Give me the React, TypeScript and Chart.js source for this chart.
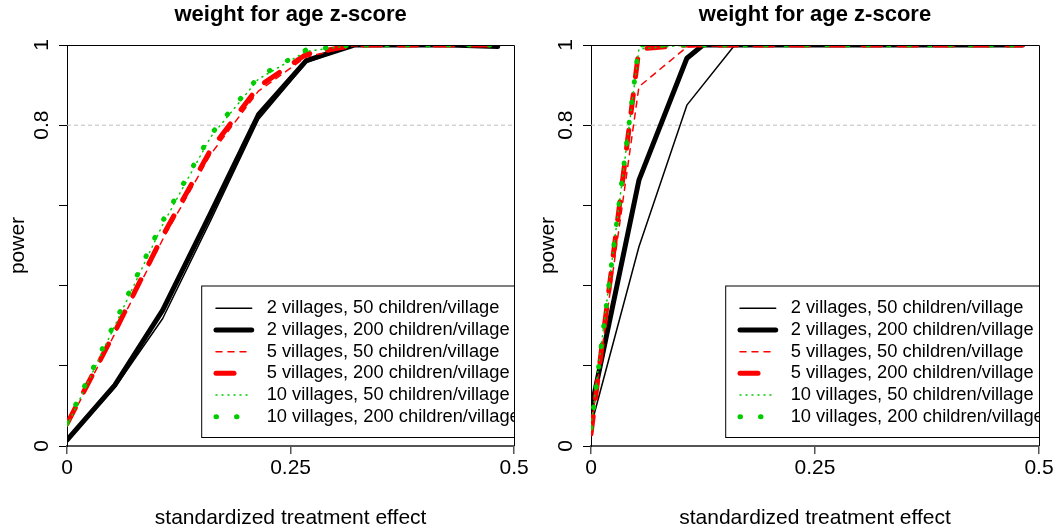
import React, { useEffect, useRef } from 'react';
import { Chart, registerables } from 'chart.js';

Chart.register(...registerables);

const FONT = "'Liberation Sans', Arial, Helvetica, sans-serif";

// ---- text ----
const chartTitle = 'weight for age z-score';
const xAxisTitle = 'standardized treatment effect';
const yAxisTitle = 'power';

// ---- ticks ----
const xTicks = [0, 0.25, 0.5];
const yTicks = [0, 0.2, 0.4, 0.6, 0.8, 1];
const yTickLabels = ['0', '', '', '', '0.8', '1'];
const referencePower = 0.8;

// ---- series names ----
const seriesNames = [
  '2 villages, 50 children/village',
  '2 villages, 200 children/village',
  '5 villages, 50 children/village',
  '5 villages, 200 children/village',
  '10 villages, 50 children/village',
  '10 villages, 200 children/village',
];

// ---- effect sizes (x) ----
const effectSizes = [0, 0.0535, 0.107, 0.1605, 0.214, 0.2675, 0.321, 0.3745, 0.428, 0.4815];
const effectSizesRightV2C200 = [0, 0.0535, 0.107, 0.125, 0.1605, 0.214, 0.2675, 0.321, 0.3745, 0.428, 0.4815];

// ---- left panel power values ----
const leftV2C50 = [0.012, 0.146, 0.318, 0.562, 0.814, 0.956, 0.999, 1, 1, 0.998];
const leftV2C200 = [0.015, 0.152, 0.339, 0.58, 0.826, 0.961, 1, 1, 1, 0.996];
const leftV5C50 = [0.05, 0.28, 0.515, 0.727, 0.885, 0.97, 0.998, 1, 1, 1];
const leftV5C200 = [0.055, 0.285, 0.524, 0.738, 0.896, 0.977, 1, 1, 1, 1];
const leftV10C50 = [0.05, 0.3, 0.552, 0.77, 0.915, 0.984, 1, 1, 1, 1];
const leftV10C200 = [0.057, 0.308, 0.561, 0.776, 0.92, 0.988, 1, 1, 1, 1];

// ---- right panel power values ----
const rightV2C50 = [0.05, 0.497, 0.85, 1, 1, 1, 1, 1, 1, 1];
const rightV2C200 = [0.09, 0.663, 0.967, 1, 1, 1, 1, 1, 1, 1, 1];
const rightV5C50 = [0.045, 0.896, 0.995, 1, 1, 1, 1, 1, 1, 1];
const rightV5C200 = [0.03, 0.99, 1, 1, 1, 1, 1, 1, 1, 1];
const rightV10C50 = [0.05, 0.99, 1, 1, 1, 1, 1, 1, 1, 1];
const rightV10C200 = [0.045, 1, 1, 1, 1, 1, 1, 1, 1, 1];

// ---- styles (R lty/lwd look-alikes) ----
const seriesStyles = [
  { color: '#000000', width: 1.5, dash: [] as number[] },
  { color: '#000000', width: 5, dash: [] as number[] },
  { color: '#FF0000', width: 1.5, dash: [6, 6] },
  { color: '#FF0000', width: 5, dash: [18, 18] },
  { color: '#00CD00', width: 1.5, dash: [1, 5] },
  { color: '#00CD00', width: 5, dash: [0.5, 20] },
];

const panels = [
  {
    key: 'left',
    left: 0,
    width: 530,
    axisWidth: 67,
    padRight: 15.5,
    xs: [effectSizes, effectSizes, effectSizes, effectSizes, effectSizes, effectSizes],
    ys: [leftV2C50, leftV2C200, leftV5C50, leftV5C200, leftV10C50, leftV10C200],
  },
  {
    key: 'right',
    left: 530,
    width: 529,
    axisWidth: 61,
    padRight: 20,
    xs: [effectSizes, effectSizesRightV2C200, effectSizes, effectSizes, effectSizes, effectSizes],
    ys: [rightV2C50, rightV2C200, rightV5C50, rightV5C200, rightV10C50, rightV10C200],
  },
];

const HEIGHT = 531;

const yLabelPlugin = {
  id: 'rYLabels',
  afterDraw(chart: any) {
    const ys = chart.scales.y;
    const ctx = chart.ctx;
    ctx.save();
    ctx.fillStyle = '#000';
    ctx.font = `21px ${FONT}`;
    ctx.textAlign = 'center';
    ctx.textBaseline = 'alphabetic';
    for (const t of ys.ticks) {
      if (!t.label) continue;
      const py = ys.getPixelForValue(t.value);
      ctx.save();
      ctx.translate(ys.right - 18.7, py);
      ctx.rotate(-Math.PI / 2);
      ctx.fillText(String(t.label), 0, 0);
      ctx.restore();
    }
    ctx.restore();
  },
};

const legendPlugin = {
  id: 'rLegend',
  afterDatasetsDraw(chart: any) {
    const { ctx, chartArea } = chart;
    const left = chartArea.left + 134.7;
    const top = chartArea.bottom - 160;
    const bottom = chartArea.bottom - 8.5;
    const right = chartArea.right + 40;
    ctx.save();
    ctx.beginPath();
    ctx.rect(chartArea.left, chartArea.top, chartArea.right - chartArea.left, chartArea.bottom - chartArea.top);
    ctx.clip();
    ctx.fillStyle = '#fff';
    ctx.fillRect(left, top, right - left, bottom - top);
    ctx.strokeStyle = '#000';
    ctx.lineWidth = 1;
    ctx.setLineDash([]);
    ctx.strokeRect(left, top, right - left, bottom - top);
    const items = chart.data.datasets.filter((d: any) => d.label && !String(d.label).startsWith('__'));
    ctx.font = `18.3px ${FONT}`;
    ctx.textBaseline = 'middle';
    ctx.textAlign = 'left';
    items.forEach((d: any, i: number) => {
      const y = top + 22.3 + 21.67 * i;
      ctx.beginPath();
      ctx.strokeStyle = d.borderColor;
      ctx.lineWidth = d.borderWidth;
      ctx.setLineDash(d.borderDash || []);
      ctx.lineCap = d.borderCapStyle || 'butt';
      ctx.moveTo(left + 14.3, y);
      ctx.lineTo(left + 50, y);
      ctx.stroke();
      ctx.setLineDash([]);
      ctx.fillStyle = '#000';
      ctx.fillText(d.label, left + 65, y);
    });
    ctx.restore();
  },
};

const framePlugin = {
  id: 'rFrame',
  afterDraw(chart: any) {
    const { ctx, chartArea } = chart;
    const xr = Math.round(chartArea.right) + 0.5;
    const yt = Math.round(chartArea.top) + 0.5;
    ctx.save();
    ctx.strokeStyle = '#000';
    ctx.lineWidth = 1;
    ctx.setLineDash([]);
    ctx.beginPath();
    ctx.moveTo(chartArea.left, yt);
    ctx.lineTo(xr, yt);
    ctx.lineTo(xr, chartArea.bottom);
    ctx.stroke();
    ctx.restore();
  },
};

function buildConfig(p: any): any {
  const datasets: any[] = [
    {
      label: '__ref',
      data: [
        { x: 0, y: referencePower },
        { x: 0.5, y: referencePower },
      ],
      borderColor: '#BEBEBE',
      borderWidth: 1,
      borderDash: [4, 3],
      pointRadius: 0,
      order: 100,
      clip: 0,
    },
  ];
  p.ys.forEach((vals: number[], i: number) => {
    const st = seriesStyles[i];
    datasets.push({
      label: seriesNames[i],
      data: p.xs[i].map((x: number, j: number) => ({ x, y: vals[j] })),
      borderColor: st.color,
      borderWidth: st.width,
      borderDash: st.dash,
      borderCapStyle: 'round',
      borderJoinStyle: 'round',
      pointRadius: 0,
      tension: 0,
      fill: false,
      order: 10 - i,
      clip: 0,
    });
  });

  return {
    type: 'line',
    data: { datasets },
    options: {
      animation: false,
      responsive: false,
      devicePixelRatio: 1,
      events: [],
      layout: { padding: { left: 0, right: p.padRight, top: 0, bottom: 0 } },
      plugins: {
        legend: { display: false },
        tooltip: { enabled: false },
        title: {
          display: true,
          text: chartTitle,
          color: '#000',
          font: { family: FONT, size: 22, weight: 'bold', lineHeight: 1.2 },
          padding: { top: 1.3, bottom: 17.3 },
          fullSize: false,
        },
      },
      scales: {
        x: {
          type: 'linear',
          min: 0,
          max: 0.5,
          afterBuildTicks: (s: any) => {
            s.ticks = xTicks.map((v) => ({ value: v }));
          },
          ticks: {
            color: '#000',
            font: { family: FONT, size: 21, lineHeight: 1.2 },
            padding: 1.2,
            maxRotation: 0,
            minRotation: 0,
            autoSkip: false,
            callback: (v: any) => String(v),
          },
          grid: {
            drawOnChartArea: false,
            drawTicks: true,
            tickLength: 8,
            color: '#555',
            lineWidth: 1.5,
          },
          border: { display: true, color: '#555', width: 2 },
          title: {
            display: true,
            text: xAxisTitle,
            color: '#000',
            font: { family: FONT, size: 21, lineHeight: 1.2 },
            padding: { top: 0, bottom: 0.4 },
          },
          afterFit: (s: any) => {
            s.height = HEIGHT - 446;
          },
        },
        y: {
          type: 'linear',
          min: 0,
          max: 1,
          afterBuildTicks: (s: any) => {
            s.ticks = yTicks.map((v) => ({ value: v }));
          },
          ticks: {
            display: false,
            callback: (v: any) => {
              const i = yTicks.findIndex((t) => Math.abs(t - Number(v)) < 1e-9);
              return i >= 0 ? yTickLabels[i] : '';
            },
          },
          grid: {
            drawOnChartArea: false,
            drawTicks: true,
            tickLength: 8,
            color: '#000',
            lineWidth: 1,
          },
          border: { display: true, color: '#000', width: 1 },
          title: {
            display: true,
            text: yAxisTitle,
            color: '#000',
            font: { family: FONT, size: 21, lineHeight: 1.2 },
            padding: { top: 5.9, bottom: 0 },
          },
          afterFit: (s: any) => {
            s.width = p.axisWidth;
          },
        },
      },
    },
    plugins: [yLabelPlugin, legendPlugin, framePlugin],
  };
}

function Panel({ cfg }: { cfg: any }) {
  const ref = useRef<HTMLCanvasElement>(null);
  useEffect(() => {
    if (!ref.current) return;
    const chart = new Chart(ref.current, buildConfig(cfg));
    return () => chart.destroy();
  }, [cfg]);
  return (
    <canvas
      ref={ref}
      width={cfg.width}
      height={HEIGHT}
      style={{ position: 'absolute', left: cfg.left, top: 0, width: cfg.width, height: HEIGHT }}
    />
  );
}

export default function App() {
  return (
    <div style={{ position: 'absolute', left: 0, top: 0, width: 1059, height: HEIGHT, background: '#fff' }}>
      {panels.map((p) => (
        <Panel key={p.key} cfg={p} />
      ))}
    </div>
  );
}
